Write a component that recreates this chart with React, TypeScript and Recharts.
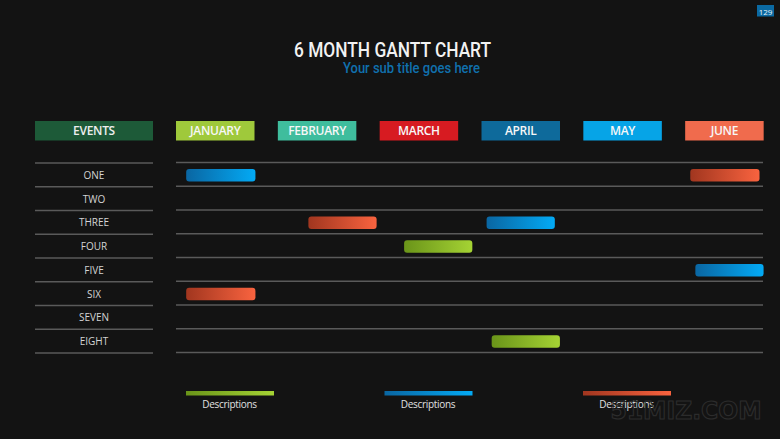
import React from "react";
import { BarChart, Bar, XAxis, YAxis } from "recharts";

const events = ["ONE", "TWO", "THREE", "FOUR", "FIVE", "SIX", "SEVEN", "EIGHT"];
const months = ["JANUARY", "FEBRUARY", "MARCH", "APRIL", "MAY", "JUNE"];
const monthTicks = [0, 1, 2, 3, 4, 5];
const monthColors = ["#9fc93b", "#3fbd9d", "#d71b21", "#0e6a9b", "#06a4e7", "#f06b4d"];

// task spans in months (0 = start of January)
const greenTasks: (number[] | null)[] = [null, null, null, [2.24, 2.91], null, null, null, [3.1, 3.77]];
const blueTasks: (number[] | null)[] = [[0.1, 0.78], null, [3.05, 3.72], null, [5.1, 5.77], null, null, null];
const redTasks: (number[] | null)[] = [[5.05, 5.73], null, [1.3, 1.97], null, null, [0.1, 0.78], null, null];

const legendLabels = ["Descriptions", "Descriptions", "Descriptions"];

const series = [
  { key: "green", from: "#6a9419", to: "#a5d334" },
  { key: "blue", from: "#0a66a2", to: "#03aaf5" },
  { key: "red", from: "#a1361f", to: "#f9633f" },
];

const data = events.map((e, i) => ({
  event: e,
  green: greenTasks[i],
  blue: blueTasks[i],
  red: redTasks[i],
}));

const PLOT_TOP = 163;
const PLOT_H = 190;
const BAND = PLOT_H / events.length;
const LINE = "#5a5a5a";
const FONT = "'Open Sans', 'Noto Sans', sans-serif";

const MonthTick = (props: any) => {
  const { x, payload } = props;
  const i = payload.value as number;
  return (
    <g>
      <rect x={x} y={121} width={78.5} height={19.5} fill={monthColors[i]} />
      <text
        x={x + 39.25}
        y={130.5}
        textAnchor="middle"
        dominantBaseline="central"
        fill="#f7f7f7"
        fontSize={12}
        fontWeight={600}
        fontFamily={FONT}
        letterSpacing={-0.3}
      >
        {months[i]}
      </text>
    </g>
  );
};

const EventTick = (props: any) => {
  const { y, payload } = props;
  const idx = events.indexOf(payload.value);
  const top = y - BAND / 2;
  const bottom = y + BAND / 2;
  return (
    <g>
      <line x1={35} x2={153} y1={top} y2={top} stroke={LINE} strokeWidth={1.6} />
      <line x1={176} x2={763} y1={top - 0.5} y2={top - 0.5} stroke={LINE} strokeWidth={1.6} />
      {idx === events.length - 1 && (
        <>
          <line x1={35} x2={153} y1={bottom} y2={bottom} stroke={LINE} strokeWidth={1.6} />
          <line x1={176} x2={763} y1={bottom - 0.5} y2={bottom - 0.5} stroke={LINE} strokeWidth={1.6} />
        </>
      )}
      <text
        x={94}
        y={y}
        textAnchor="middle"
        dominantBaseline="central"
        fill="#d4d4d4"
        fontSize={10}
        fontWeight={500}
        fontFamily={FONT}
      >
        {payload.value}
      </text>
    </g>
  );
};

export default function App() {
  return (
    <div
      style={{
        position: "absolute",
        left: 0,
        top: 0,
        width: 780,
        height: 439,
        overflow: "hidden",
        background: "#131313",
      }}
    >
      <BarChart
        width={787}
        height={439}
        data={data}
        layout="vertical"
        margin={{ top: 120, right: 0, bottom: 439 - PLOT_TOP - PLOT_H, left: 0 }}
        barSize={12.5}
        barGap={-12.5}
      >
        <defs>
          {series.map((s) => (
            <linearGradient key={s.key} id={`grad-${s.key}`} x1="0" y1="0" x2="1" y2="0">
              <stop offset="0%" stopColor={s.from} />
              <stop offset="100%" stopColor={s.to} />
            </linearGradient>
          ))}
        </defs>
        <XAxis
          type="number"
          domain={[0, 6]}
          orientation="top"
          ticks={monthTicks}
          interval={0}
          height={43}
          axisLine={false}
          tickLine={false}
          tick={<MonthTick />}
          allowDataOverflow
        />
        <YAxis
          type="category"
          dataKey="event"
          width={176}
          interval={0}
          axisLine={false}
          tickLine={false}
          tick={<EventTick />}
        />
        {series.map((s) => (
          <Bar
            key={s.key}
            dataKey={s.key}
            fill={`url(#grad-${s.key})`}
            radius={3}
            isAnimationActive={false}
          />
        ))}
      </BarChart>

      <svg
        width={780}
        height={439}
        style={{ position: "absolute", left: 0, top: 0, pointerEvents: "none" }}
      >
        <text
          x={392.5}
          y={56.5}
          textAnchor="middle"
          fill="#f2f2f2"
          fontSize={20}
          fontWeight={500}
          fontFamily="Roboto, 'Open Sans', sans-serif"
          textLength={197}
          lengthAdjust="spacingAndGlyphs"
        >
          6 MONTH GANTT CHART
        </text>
        <text
          x={411.5}
          y={73.3}
          textAnchor="middle"
          fill="#1070ad"
          fontSize={14}
          fontWeight={500}
          fontFamily="Roboto, 'Open Sans', sans-serif"
          textLength={137}
          lengthAdjust="spacingAndGlyphs"
        >
          Your sub title goes here
        </text>

        <rect x={757} y={5} width={17} height={11.5} fill="#0b6aa3" />
        <text
          x={765.5}
          y={11}
          textAnchor="middle"
          dominantBaseline="central"
          fill="#e8f2f8"
          fontSize={8}
          fontFamily={FONT}
        >
          129
        </text>

        <rect x={35} y={121} width={118} height={19.5} fill="#1d5a38" />
        <text
          x={94}
          y={130.5}
          textAnchor="middle"
          dominantBaseline="central"
          fill="#eeeeee"
          fontSize={12}
          fontWeight={600}
          fontFamily={FONT}
          letterSpacing={-0.3}
        >
          EVENTS
        </text>

        <defs>
          {series.map((s) => (
            <linearGradient key={s.key} id={`lg-${s.key}`} x1="0" y1="0" x2="1" y2="0">
              <stop offset="0%" stopColor={s.from} />
              <stop offset="100%" stopColor={s.to} />
            </linearGradient>
          ))}
        </defs>
        {series.map((s, i) => {
          const x0 = 186 + i * 198.5;
          return (
            <g key={s.key}>
              <rect x={x0} y={391} width={88} height={4.5} fill={`url(#lg-${s.key})`} />
              <text
                x={x0 + 43.5}
                y={404}
                textAnchor="middle"
                dominantBaseline="central"
                fill="#e0e0e0"
                fontSize={10}
                fontWeight={500}
                fontFamily={FONT}
                letterSpacing={-0.3}
              >
                {legendLabels[i]}
              </text>
            </g>
          );
        })}

        <text
          x={686}
          y={419}
          textAnchor="middle"
          fill="none"
          stroke="#2c2c2c"
          strokeWidth={1.2}
          fontSize={25}
          fontWeight={700}
          fontFamily="'DejaVu Sans', sans-serif"
          textLength={151}
          lengthAdjust="spacingAndGlyphs"
        >
          51MIZ.COM
        </text>
      </svg>
    </div>
  );
}
